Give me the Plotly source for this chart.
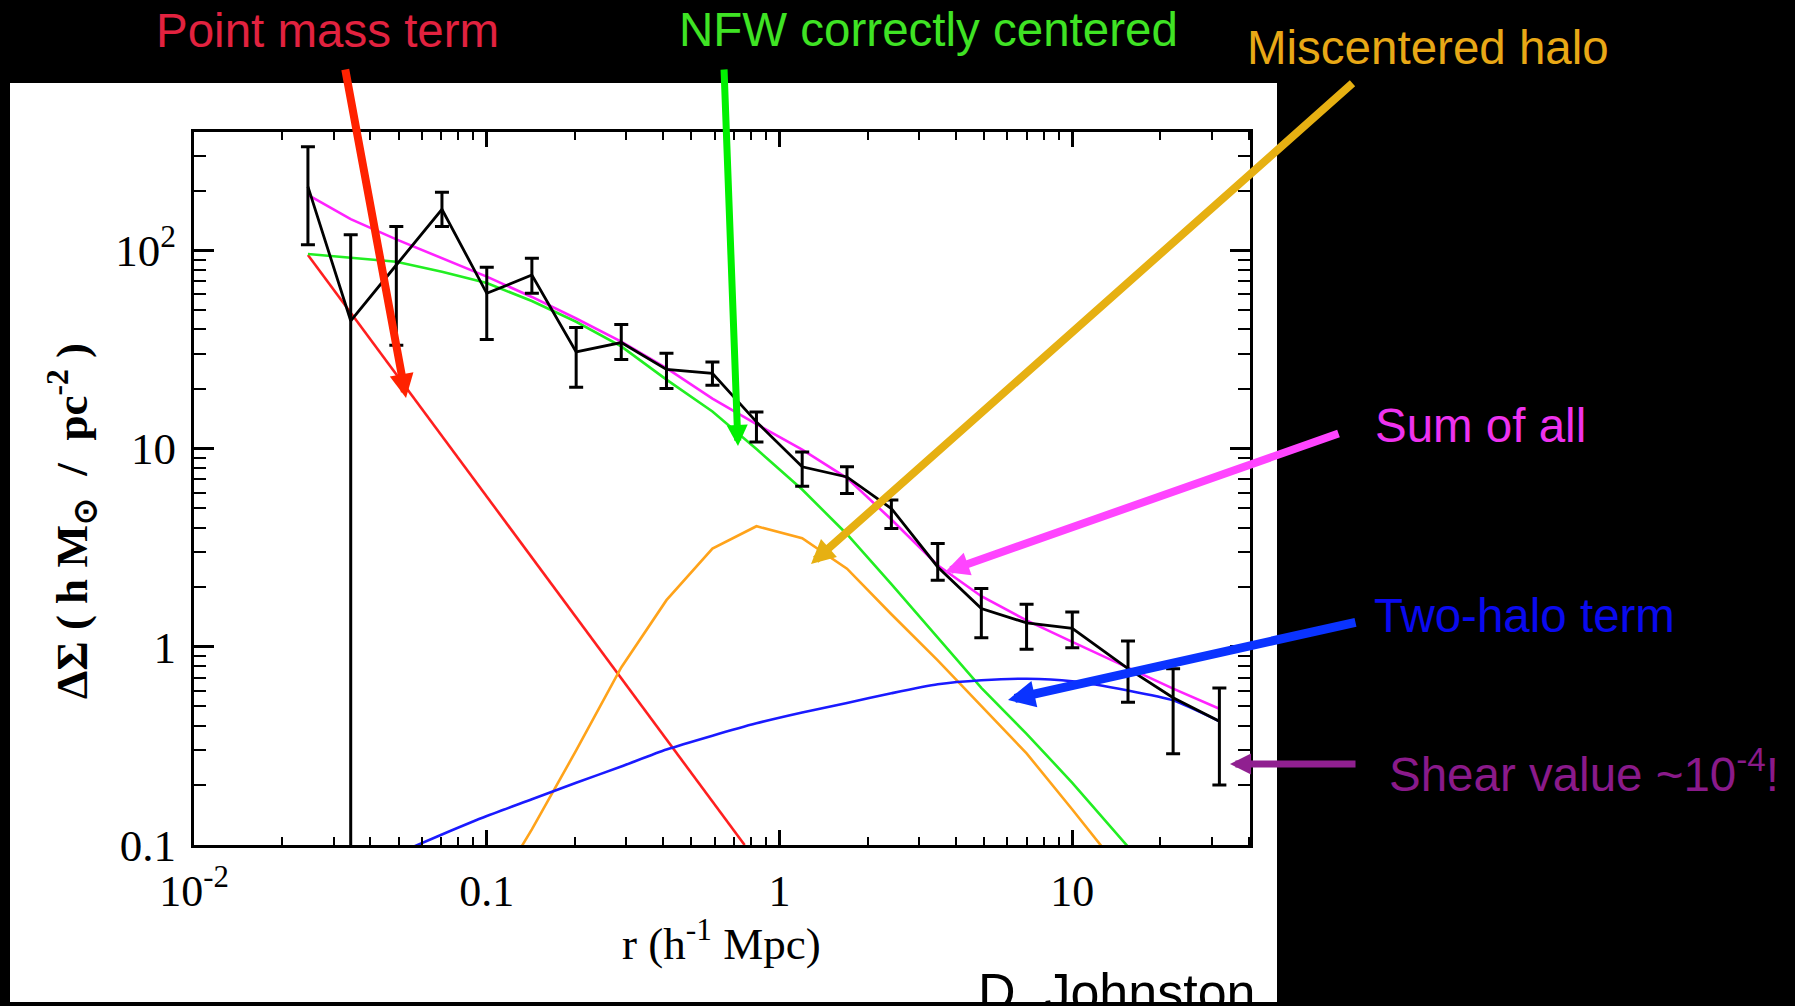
import plotly.graph_objects as go

# ---------------------------------------------------------------
# Stacked weak-lensing profile: Delta Sigma(r) with model terms
# ---------------------------------------------------------------

# radial bins (h^-1 Mpc)
r_bins = [0.0245, 0.0343, 0.0491, 0.0703, 0.100, 0.1426, 0.202, 0.288, 0.411,
          0.590, 0.834, 1.195, 1.70, 2.41, 3.47, 4.89, 6.98, 10.0, 15.5, 22.1, 31.8]

# measured Delta Sigma (h M_sun / pc^2) and 1-sigma bounds
delta_sigma = [210, 44.2, 84.5, 161.5, 60.8, 75.2, 30.8, 34.3, 25.1, 24.0, 13.65,
               8.1, 7.2, 4.99, 2.53, 1.56, 1.32, 1.24, 0.776, 0.554, 0.421]
ds_upper = [334, 120, 132, 197, 82.3, 91.4, 40.9, 42.3, 30.3, 27.4, 15.3,
            9.63, 8.1, 5.5, 3.32, 1.97, 1.64, 1.50, 1.07, 0.776, 0.62]
ds_lower = [107, 0.01, 33.3, 132, 35.6, 60.8, 20.4, 28.2, 20.1, 20.9, 10.8,
            6.47, 5.94, 3.95, 2.17, 1.11, 0.971, 0.99, 0.526, 0.289, 0.201]

# model components
point_mass_r = [0.0245, 0.76]
point_mass = [95, 0.1]

nfw_r = r_bins[:19]
nfw_centered = [96, 91.8, 87.7, 78.2, 68.5, 55.6, 43.7, 32.8, 22.3, 15.4, 9.95,
                6.22, 3.70, 2.07, 1.12, 0.621, 0.364, 0.206, 0.098]

misc_r = r_bins[4:19]
miscentered = [0.05, 0.12, 0.30, 0.787, 1.72, 3.13, 4.06, 3.53, 2.48, 1.46,
               0.855, 0.501, 0.290, 0.151, 0.067]

twohalo_r = r_bins[2:]
two_halo = [0.090, 0.113, 0.140, 0.170, 0.206, 0.249, 0.303, 0.356, 0.411, 0.466,
            0.521, 0.583, 0.647, 0.678, 0.690, 0.670, 0.602, 0.537, 0.421]

sum_all = [190.6, 144, 113.8, 91.4, 73.8, 58.3, 45.4, 34.7, 25.5, 17.9, 13.3,
           9.9, 7.1, 4.39, 2.58, 1.80, 1.36, 1.06, 0.783, 0.615, 0.487]

# axis tick labels
x_tickvals = [0.01, 0.1, 1, 10]
x_ticktext = ["10<sup>-2</sup>", "0.1", "1", "10"]
y_tickvals = [0.1, 1, 10, 100]
y_ticktext = ["0.1", "1", "10", "10<sup>2</sup>"]

# ---------------------------------------------------------------
W, H = 1795, 1006
L, R, T, B = 194, 1250, 132, 845      # plot-area edges in pixels


def fx(p):
    return (p - L) / (R - L)


def fy(p):
    return (B - p) / (B - T)


fig = go.Figure()

fig.add_trace(go.Scatter(x=point_mass_r, y=point_mass, mode="lines",
                         line=dict(color="#ff1f1f", width=2.6), name="Point mass"))
fig.add_trace(go.Scatter(x=misc_r, y=miscentered, mode="lines",
                         line=dict(color="#ffa31a", width=2.6), name="Miscentered"))
fig.add_trace(go.Scatter(x=nfw_r, y=nfw_centered, mode="lines",
                         line=dict(color="#22ee22", width=2.6), name="NFW"))
fig.add_trace(go.Scatter(x=twohalo_r, y=two_halo, mode="lines",
                         line=dict(color="#1a1aff", width=2.6, shape="spline", smoothing=0.6),
                         name="Two-halo"))
fig.add_trace(go.Scatter(x=r_bins, y=sum_all, mode="lines",
                         line=dict(color="#ff22ff", width=2.6), name="Sum"))

err_plus = [u - v for u, v in zip(ds_upper, delta_sigma)]
err_minus = [v - lo for v, lo in zip(delta_sigma, ds_lower)]
fig.add_trace(go.Scatter(
    x=r_bins, y=delta_sigma, mode="lines",
    line=dict(color="black", width=2.8),
    error_y=dict(type="data", symmetric=False, array=err_plus, arrayminus=err_minus,
                 color="black", thickness=3, width=7),
    name="Data"))

minor_x = [m * 10 ** e for e in range(-2, 2) for m in range(2, 10)]
minor_y = [m * 10 ** e for e in range(-1, 3) for m in range(2, 10)]

serif = "Liberation Serif, Times New Roman, serif"
sans = "Liberation Sans, Arial, sans-serif"

fig.update_xaxes(
    type="log", range=[-2, 1.607], tickvals=x_tickvals, ticktext=x_ticktext,
    ticks="inside", ticklen=15, tickwidth=2.5, tickcolor="black",
    showline=True, linewidth=3, linecolor="black", mirror="ticks",
    showgrid=False, zeroline=False, ticklabelstandoff=5,
    tickfont=dict(family=serif, size=44, color="black"),
    minor=dict(tickvals=minor_x, ticks="inside", ticklen=8, tickwidth=2,
               tickcolor="black", showgrid=False),
)
fig.update_yaxes(
    type="log", range=[-1, 2.598], tickvals=y_tickvals, ticktext=y_ticktext,
    ticks="inside", ticklen=20, tickwidth=2.5, tickcolor="black",
    showline=True, linewidth=3, linecolor="black", mirror="ticks",
    showgrid=False, zeroline=False, ticklabelstandoff=6,
    tickfont=dict(family=serif, size=45, color="black"),
    minor=dict(tickvals=minor_y, ticks="inside", ticklen=12, tickwidth=2,
               tickcolor="black", showgrid=False),
)

annotations = []

# axis titles
nb = "\u00a0"
ytitle = ("<b>ΔΣ" + nb + "(" + nb + "h" + nb + "M<sub>⊙</sub>" + nb + nb + "/" + nb + nb
          + "pc<sup>-2</sup>" + nb + ")</b>")
annotations.append(dict(
    xref="paper", yref="paper", x=fx(71), y=fy(521), showarrow=False,
    text=ytitle, textangle=-90,
    font=dict(family=serif, size=45, color="black"), xanchor="center", yanchor="middle"))
annotations.append(dict(
    xref="paper", yref="paper", x=fx(721), y=fy(940), showarrow=False,
    text="r (h<sup>-1</sup> Mpc)",
    font=dict(family=serif, size=45, color="black"), xanchor="center", yanchor="middle"))

# labels on the black surround
labels = [
    ("Point mass term", 327, 30, "#e2223f"),
    ("NFW correctly centered", 928, 29, "#3fe324"),
    ("Miscentered halo", 1428, 48, "#e8a816"),
    ("Sum of all", 1480, 425, "#ee33ee"),
    ("Two-halo term", 1524, 615, "#0a0aee"),
    ("Shear value ~10<sup>-4</sup>!", 1584, 771, "#8a1a8a"),
]
for txt, cx, cy, col in labels:
    annotations.append(dict(
        xref="paper", yref="paper", x=fx(cx), y=fy(cy), showarrow=False, text=txt,
        font=dict(family=sans, size=47.5, color=col), xanchor="center", yanchor="middle"))

annotations.append(dict(
    xref="paper", yref="paper", x=fx(1117), y=fy(992), showarrow=False,
    text="D. Johnston", font=dict(family=sans, size=52, color="black"),
    xanchor="center", yanchor="middle"))

# pointer arrows: (tail_x, tail_y, head_x, head_y, colour, width)
arrows = [
    (345, 68, 406, 398, "#ff2200", 8),
    (724, 68, 738, 446, "#00f000", 7),
    (1354, 82, 811, 564, "#e6b012", 8),
    (1340, 433, 945, 572, "#ff44ff", 8),
    (1357, 622, 1008, 700, "#0a33ff", 9),
    (1357, 764, 1230, 764, "#902090", 7),
]
for tx, ty, hx, hy, col, w in arrows:
    annotations.append(dict(
        xref="paper", yref="paper", x=fx(hx), y=fy(hy), ax=tx - hx, ay=ty - hy,
        axref="pixel", ayref="pixel", text="", showarrow=True,
        arrowhead=2, arrowsize=0.6, arrowwidth=w, arrowcolor=col, standoff=0))

fig.update_layout(
    width=W, height=H, autosize=False,
    margin=dict(l=L, r=W - R, t=T, b=H - B, pad=0),
    paper_bgcolor="black", plot_bgcolor="white",
    showlegend=False,
    annotations=annotations,
    shapes=[dict(type="rect", xref="paper", yref="paper", layer="below",
                 x0=fx(10), x1=fx(1277), y0=fy(1002), y1=fy(83),
                 fillcolor="white", line=dict(width=0))],
)

fig.write_html("out.html")
